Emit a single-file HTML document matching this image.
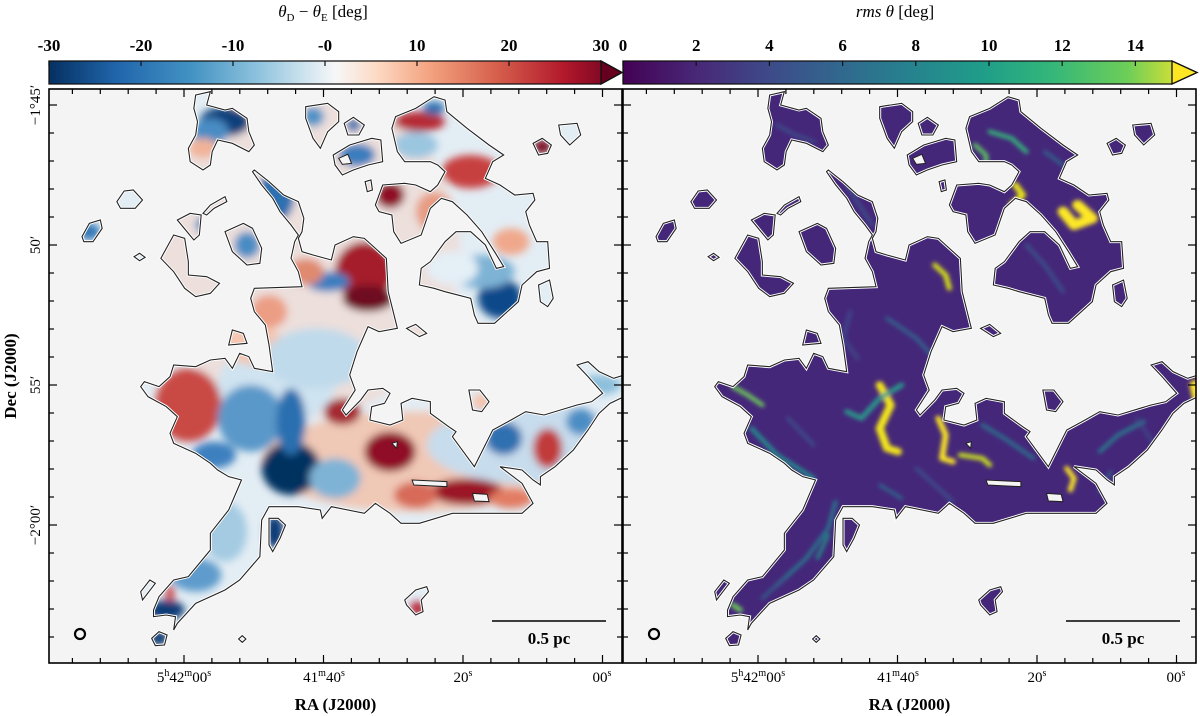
<!DOCTYPE html>
<html><head><meta charset="utf-8">
<style>
html,body{margin:0;padding:0;background:#fff;}
body{width:1200px;height:716px;position:relative;overflow:hidden;font-family:"Liberation Serif",serif;}
</style></head>
<body>
<svg id="fig" width="1200" height="716" viewBox="0 0 1200 716" xmlns="http://www.w3.org/2000/svg" style="position:absolute;left:0;top:0">
<defs>
<linearGradient id="rdbu" x1="0" x2="1" y1="0" y2="0">
<stop offset="0" stop-color="#053061"/><stop offset="0.12" stop-color="#2166ac"/><stop offset="0.25" stop-color="#4393c3"/><stop offset="0.37" stop-color="#92c5de"/><stop offset="0.45" stop-color="#d1e5f0"/><stop offset="0.5" stop-color="#f7f7f7"/><stop offset="0.57" stop-color="#fddbc7"/><stop offset="0.66" stop-color="#f4a582"/><stop offset="0.78" stop-color="#d6604d"/><stop offset="0.9" stop-color="#b2182b"/><stop offset="1" stop-color="#67001f"/>
</linearGradient>
<linearGradient id="viri" x1="0" x2="1" y1="0" y2="0">
<stop offset="0" stop-color="#440154"/><stop offset="0.13" stop-color="#482878"/><stop offset="0.25" stop-color="#3e4989"/><stop offset="0.38" stop-color="#31688e"/><stop offset="0.5" stop-color="#26828e"/><stop offset="0.63" stop-color="#1f9e89"/><stop offset="0.75" stop-color="#35b779"/><stop offset="0.88" stop-color="#6ece58"/><stop offset="1" stop-color="#fde725"/>
</linearGradient>
<filter id="blurL" x="-20%" y="-20%" width="140%" height="140%"><feGaussianBlur stdDeviation="4"/></filter>
<filter id="blurR" x="-20%" y="-20%" width="140%" height="140%"><feGaussianBlur stdDeviation="2"/></filter>
</defs>
<text x="323" y="17" text-anchor="middle" font-size="17" font-style="italic">θ<tspan font-size="11" dy="4" font-style="normal">D</tspan><tspan dy="-4" font-style="normal"> − </tspan>θ<tspan font-size="11" dy="4" font-style="normal">E</tspan><tspan dy="-4" font-style="normal"> [deg]</tspan></text>
<text x="895" y="17" text-anchor="middle" font-size="17"><tspan font-style="italic">rms θ</tspan> [deg]</text>
<g id="cbars"></g>
<g id="panels"></g>
</svg>
<script>
const NS="http://www.w3.org/2000/svg";
const fig=document.getElementById('fig');
function mk(tag,attrs,parent){const e=document.createElementNS(NS,tag);for(const k in attrs)e.setAttribute(k,attrs[k]);if(parent)parent.appendChild(e);return e;}

const leftCbTicks=[-30,-20,-10,-0,10,20,30];
const leftCbLabels=["-30","-20","-10","-0","10","20","30"];
const leftCbRange=[-30,30];
const rightCbTicks=[0,2,4,6,8,10,12,14];
const rightCbLabels=["0","2","4","6","8","10","12","14"];
const rightCbRange=[0,15];
const raLabels=["5h42m00s","41m40s","20s","00s"];
const raMajorLocal=[135,275,414,553];
const decLabels=["−1°45′","50′","55′","−2°00′"];
const decMajorLocal=[16,156,296,436];

const cb=document.getElementById('cbars');
function colorbar(x0,x1,tip,grad,ticks,labels,range,name){
  const g=mk('g',{},cb);
  
  
  const y0=61,y1=84;
  mk('polygon',{points:`${x0},${y0} ${x1},${y0} ${tip},${(y0+y1)/2} ${x1},${y1} ${x0},${y1}`,fill:`url(#${grad})`,stroke:'#111','stroke-width':1.3},g);
  mk('polygon',{points:`${x1},${y0} ${tip},${(y0+y1)/2} ${x1},${y1}`,fill:grad==='rdbu'?'#67001f':'#fde725',stroke:'#111','stroke-width':1.3},g);
  const sx=v=>x0+(v-range[0])/(range[1]-range[0])*(x1-x0);
  ticks.forEach((t,i)=>{
    const x=sx(t);
    mk('line',{x1:x,x2:x,y1:y0,y2:y0+5,stroke:'#111','stroke-width':1.2},g);
    const tx=mk('text',{x:x,y:51,'text-anchor':'middle','font-size':17,'font-weight':'bold'},g);
    
    
    tx.textContent=labels[i];
  });
}
colorbar(49,601,622,'rdbu',leftCbTicks,leftCbLabels,leftCbRange,'left-colorbar');
colorbar(623,1172,1197,'viri',rightCbTicks,rightCbLabels,rightCbRange,'right-colorbar');

const shapes=[
"560,255 600,290 640,330 680,350 695,400 690,440 680,460 690,500 720,510 770,525 780,480 830,455 860,460 920,520 925,620 950,730 900,740 870,725 840,800 820,870 835,915 800,975 810,990 850,945 870,915 910,910 930,925 915,955 880,965 875,1005 930,1020 965,1005 960,955 990,940 1040,950 1040,985 1090,1025 1110,1040 1100,1055 1140,1115 1160,1145 1210,1035 1260,1005 1300,980 1350,990 1440,960 1480,950 1510,925 1470,875 1440,840 1470,830 1500,860 1540,880 1568,870 1568,935 1530,955 1500,985 1470,1035 1430,1095 1380,1145 1340,1175 1340,1200 1320,1185 1290,1155 1230,1145 1290,1195 1320,1255 1290,1285 1100,1285 1010,1315 960,1315 930,1285 890,1255 860,1285 770,1265 745,1300 740,1275 680,1265 600,1265 580,1305 575,1415 520,1485 480,1515 400,1555 350,1615 340,1635 345,1595 320,1590 285,1595 285,1575 300,1535 340,1485 380,1475 440,1395 440,1345 490,1275 525,1185 490,1175 460,1155 440,1135 400,1105 340,1075 330,1045 350,995 320,965 270,935 250,905 260,890 300,905 330,875 340,840 400,845 440,825 480,820 500,850 520,805 545,815 560,850 610,860 600,780 590,720 560,680 550,640 560,610 690,605 680,560 660,520 670,470 680,450 660,420 630,380 610,340 580,300 555,260",
"400,30 440,20 430,60 480,75 500,70 540,100 545,140 560,180 545,200 500,175 460,165 445,200 440,240 420,255 385,230 380,190 400,150 405,110 395,70",
"945,95 1000,70 1050,35 1080,45 1085,80 1140,130 1200,180 1240,210 1210,230 1190,280 1230,300 1270,330 1320,325 1325,345 1300,380 1310,420 1330,470 1360,470 1365,550 1330,560 1290,600 1280,650 1230,700 1215,715 1170,715 1160,690 1150,640 1080,620 1050,610 1010,600 1015,550 1040,530 1080,470 1110,440 1150,440 1190,480 1220,550 1240,545 1215,500 1180,440 1140,390 1100,350 1070,340 1040,370 1015,450 960,475 940,440 935,390 900,380 890,360 910,300 970,295 1000,300 1040,320 1060,300 1080,260 1060,240 1040,230 970,230 950,200 935,130",
"700,65 760,55 790,80 790,110 760,140 740,190 720,160 700,100",
"805,115 830,97 860,120 845,150 815,150",
"775,210 820,180 880,160 905,165 910,230 870,240 830,255 800,270 780,240",
"1390,120 1440,115 1450,150 1420,180 1395,150",
"1320,175 1345,160 1370,180 1360,205 1335,210",
"185,350 205,318 230,315 255,345 235,370 195,370",
"90,455 110,415 140,405 145,430 120,470 95,470",
"350,405 385,385 415,390 410,450 395,465",
"420,385 440,360 480,335 485,350 450,370 430,390",
"305,520 340,450 370,460 380,530 380,570 430,575 465,595 440,625 400,635 370,610 340,560",
"480,440 530,415 555,430 580,490 575,535 540,540 500,500",
"490,780 500,735 530,745 540,775",
"975,730 1000,718 1030,745 1010,755",
"1335,600 1365,585 1375,640 1360,665 1340,650",
"1145,915 1175,915 1200,950 1180,980 1155,975",
"600,1300 625,1300 645,1320 630,1360 610,1400 600,1380",
"250,1520 275,1485 290,1495 255,1545",
"280,1660 300,1640 322,1650 315,1680 290,1682",
"527,1652 537,1662 527,1672 517,1662",
"970,1545 1000,1515 1030,1505 1035,1520 1015,1545 1020,1580 1000,1590 975,1560",
"232,515 247,505 262,517 247,527",
"862,290 878,285 882,315 868,320"
];
const holes=["990,1185 1085,1190 1085,1205 995,1200","1155,1225 1195,1228 1200,1250 1160,1248","790,220 815,208 825,235 800,238","935,1075 950,1070 948,1090"];

const leftPatches=[
[700,500,420,500,'#ecdfdc'],[1000,1130,420,150,'#f0c8b6'],[1330,1080,300,120,'#c7dcec'],
[620,900,160,120,'#cfe3f0'],[560,780,80,60,'#f4c6b0'],
[480,110,70,45,'#0c3f7a'],[440,140,50,40,'#4a8cc4'],[420,190,40,30,'#f1b399'],[620,330,50,80,'#2d6fb0'],[440,420,40,30,'#3e82be'],[540,480,35,40,'#4a8cc4'],[110,440,30,25,'#3277b6'],
[860,560,80,90,'#a51c2c'],[870,640,70,40,'#6e0720'],[760,590,60,30,'#3a7ec0'],[700,560,50,40,'#e08a70'],[600,680,50,50,'#ec9e84'],
[730,820,140,90,'#bfdaeb'],[930,330,40,40,'#8f0f27'],[1010,110,70,30,'#b62c35'],[1050,70,30,20,'#2d6fb0'],[1000,180,60,40,'#9bc6e0'],[1150,260,80,50,'#c7413f'],[1050,380,50,60,'#e79c84'],[1230,640,60,60,'#0d4a8a'],[1180,560,90,50,'#7eb3d6'],[1260,470,50,40,'#f0a88c'],[1100,550,70,50,'#e4eff6'],
[1345,185,25,22,'#7a0822'],[720,95,30,30,'#4f93c6'],[840,210,50,35,'#3a7dbd'],[830,120,20,20,'#2a6aad'],
[380,960,90,110,'#c94a44'],[550,1000,90,100,'#5a98c9'],[660,1150,80,80,'#053061'],[660,1010,40,100,'#2c6fb0'],[800,980,50,40,'#a52a30'],[930,1100,70,60,'#8f0f27'],[780,1180,70,60,'#7fb3d6'],[450,1110,60,40,'#3d80bf'],
[1140,1220,100,40,'#9b1528'],[1000,1230,60,40,'#d76b58'],[1240,1060,50,50,'#2d6fb0'],[1360,1090,40,60,'#c13a3b'],[1450,1010,40,40,'#4b8ec4'],[1260,1240,60,30,'#e27b62'],
[480,1340,60,90,'#a4cbe2'],[400,1470,70,50,'#5f9bcc'],[320,1575,50,30,'#0a3b76'],[330,1525,12,25,'#c73f3f'],[300,1660,25,22,'#083870'],[615,1340,25,50,'#0a3b76'],[1005,1570,20,20,'#b2182b'],[1180,950,25,25,'#f4c3ad'],[1500,900,60,30,'#8dbfdc']
];
const rightStrands=[
['700,900 730,960 700,1030 720,1090 750,1100','#f2e51f',22],
['860,1000 880,1050 870,1120 900,1130','#fde725',16],
['1240,360 1280,400 1230,420 1200,380','#fde725',30],
['1070,300 1090,330 1060,360','#e8e419',18],
['850,540 880,570 890,610','#d8e219',14],
['610,980 650,1000 700,940 760,900','#2a9b8a',14],
['350,1030 420,1110 520,1180','#21918c',12],
['920,1110 980,1120 1000,1140','#c9e020',14],
['1210,1150 1230,1180 1220,1215','#fde725',14],
['1560,900 1568,940','#fde725',30],
['1000,140 1060,160 1100,200','#35b779',12],
['960,180 990,210 990,250','#5ec962',12],
['300,905 340,930 380,960','#6ece58',12],
['580,1250 560,1330 500,1420 420,1500','#287d8e',10],
['320,1575 300,1560','#6ece58',14],
['980,1020 1040,1060 1120,1120','#2a788e',10],
['720,700 800,760 850,820','#31688e',10],
['1300,1100 1350,1050 1420,1010','#26828e',10],
['560,1350 530,1420','#1f9e89',8],
['420,120 470,150 520,170','#3b528b',9],
['610,300 650,370 680,420','#3b528b',9],
['620,680 600,760 640,820','#3e4a89',10],
['1100,480 1150,540 1200,620','#3b528b',10],
['1150,200 1200,240','#2c728e',8],
['800,1150 850,1200 900,1250','#3b528b',9],
['450,1000 520,1080','#3b528b',9],
['1300,1220 1330,1160','#31688e',8],
['1400,1000 1450,1080','#3e4989',8],
['700,1200 760,1240','#2c728e',8],
['380,1540 440,1480','#31688e',8]
];

const panelsG=document.getElementById('panels');
const T='translate(0,-4) scale(0.36670,0.33333)';
function panel(px,which){
  const PW=573,PH=574,PY=89;
  const g=mk('g',{transform:`translate(${px},${PY})`},panelsG);
  
  
  const cp=mk('clipPath',{id:'clip'+which},g);
  mk('rect',{x:0,y:0,width:PW,height:PH},cp);
  const cpS=mk('clipPath',{id:'shape'+which},g);
  shapes.forEach(s=>mk('polygon',{points:s,transform:T},cpS));
  const inner=mk('g',{'clip-path':`url(#clip${which})`},g);
  mk('rect',{x:0,y:0,width:PW,height:PH,fill:'#f4f4f4'},inner);
  const fillG=mk('g',{'clip-path':`url(#shape${which})`},inner);
  mk('rect',{x:0,y:0,width:PW,height:PH,fill:which==='L'?'#e3edf4':'#45277a'},fillG);
  const bg=mk('g',{filter:which==='L'?'url(#blurL)':'url(#blurR)'},fillG);
  const fg=mk('g',{transform:T},bg);
  if(which==='L'){
    leftPatches.forEach(p=>{
      const e=mk('ellipse',{cx:p[0],cy:p[1],rx:p[2],ry:p[3],fill:p[4]},fg);
      
      
    });
  } else {
    rightStrands.forEach(s=>{
      const l=mk('polyline',{points:s[0],fill:'none',stroke:s[1],'stroke-width':s[2],'stroke-linecap':'round','stroke-linejoin':'round'},fg);
      
      
    });
  }
  const og=mk('g',{transform:T},inner);
  shapes.forEach(s=>{
    mk('polygon',{points:s,fill:'none',stroke:'#fff','stroke-width':3,'vector-effect':'non-scaling-stroke'},og);
    const p=mk('polygon',{points:s,fill:'none',stroke:'#222','stroke-width':1.1,'vector-effect':'non-scaling-stroke'},og);
    
    
  });
  holes.forEach(h=>mk('polygon',{points:h,fill:'#f4f4f4',stroke:'#222','stroke-width':1,'vector-effect':'non-scaling-stroke'},og));
  const bm=mk('ellipse',{cx:31,cy:545,rx:5,ry:5,fill:'none',stroke:'#000','stroke-width':2.2},g);
  
  
  const sb=mk('g',{},g);
  
  
  mk('line',{x1:443,x2:557,y1:532,y2:532,stroke:'#000','stroke-width':1.6},sb);
  const st=mk('text',{x:500,y:555,'text-anchor':'middle','font-size':17,'font-weight':'bold'},sb);
  st.textContent='0.5 pc';
  const fr=mk('rect',{x:0,y:0,width:PW,height:PH,fill:'none',stroke:'#000','stroke-width':1.6},g);
  
  
  const tg=mk('g',{stroke:'#000','stroke-width':1.2},g);
  for(let k=-4;k<20;k++){
    const x=raMajorLocal[0]+k*27.9; if(x<2||x>PW-2)continue;
    const maj=(k%5===0);const L=maj?8:5;
    mk('line',{x1:x,x2:x,y1:PH,y2:PH-L},tg);
    mk('line',{x1:x,x2:x,y1:0,y2:L},tg);
  }
  for(let k=-1;k<22;k++){
    const y=decMajorLocal[0]+k*28; if(y<2||y>PH-2)continue;
    const maj=(k%5===0);const L=maj?8:5;
    mk('line',{x1:0,x2:L,y1:y,y2:y},tg);
    mk('line',{x1:PW,x2:PW-L,y1:y,y2:y},tg);
  }
  raLabels.forEach((lab,i)=>{
    const t=mk('text',{x:raMajorLocal[i],y:PH+19,'text-anchor':'middle','font-size':15},g);
    
    
    const m=lab.match(/^(?:(\d+)h)?(?:(\d+)m)?(\d+)s$/);
    let html='';
    if(m[1])html+=`${m[1]}<tspan font-size="10" dy="-6">h</tspan><tspan dy="6">${m[2]}</tspan><tspan font-size="10" dy="-6">m</tspan><tspan dy="6">${m[3]}</tspan><tspan font-size="10" dy="-6">s</tspan>`;
    else if(m[2])html+=`${m[2]}<tspan font-size="10" dy="-6">m</tspan><tspan dy="6">${m[3]}</tspan><tspan font-size="10" dy="-6">s</tspan>`;
    else html+=`${m[3]}<tspan font-size="10" dy="-6">s</tspan>`;
    t.innerHTML=html;
  });
  const xt=mk('text',{x:PW/2,y:PH+47,'text-anchor':'middle','font-size':17,'font-weight':'bold'},g);
  
  
  xt.textContent='RA (J2000)';
}
panel(49,'L');
panel(623,'R');
const dl=mk('g',{},fig);


decLabels.forEach((lab,i)=>{
  const y=89+decMajorLocal[i];
  const t=mk('text',{x:0,y:0,'text-anchor':'middle','font-size':15,transform:`translate(40,${y}) rotate(-90)`},dl);
  
  
  t.textContent=lab;
});
const yt=mk('text',{x:0,y:0,'text-anchor':'middle','font-size':17,'font-weight':'bold',transform:'translate(16,376) rotate(-90)'},dl);


yt.textContent='Dec (J2000)';
</script>
</body></html>
